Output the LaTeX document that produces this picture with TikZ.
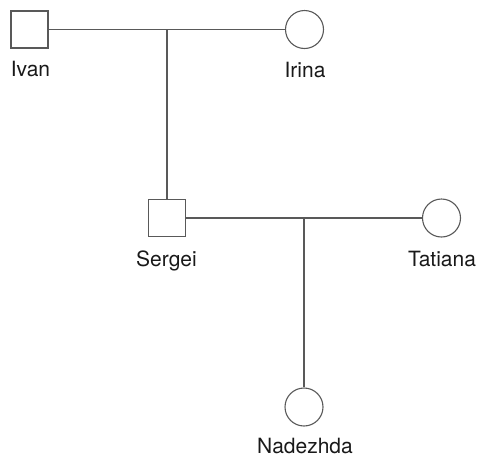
\documentclass[tikz,border=0pt]{standalone}
\usepackage{fontspec}
\setmainfont{TeX Gyre Heros}
\begin{document}
\begin{tikzpicture}[x=1pt,y=-1pt,
  line/.style={draw=black!65,line width=1.1pt},
  male/.style={draw=black!65,line width=1.1pt,rectangle,minimum size=37pt,inner sep=0pt},
  female/.style={draw=black!65,line width=1.1pt,circle,minimum size=38pt,inner sep=0pt},
  lbl/.style={anchor=base,inner sep=0pt,font=\fontsize{21}{24}\selectfont,text=black!90}]
\useasboundingbox (0,0) rectangle (479,456);
\node[male] (ivan) at (29.5,29.5) {};
\node[female] (irina) at (304.5,29.5) {};
\node[male] (sergei) at (167,218) {};
\node[female] (tatiana) at (441.5,218) {};
\node[female] (nadezhda) at (304,407) {};
\node[lbl] (ivanl) at (30.5,76.5) {Ivan};
\node[lbl] (irinal) at (305,77) {Irina};
\node[lbl] (sergeil) at (166.5,266) {Sergei};
\node[lbl] (tatianal) at (442,266) {Tatiana};
\node[lbl] (nadezhdal) at (305,453) {Nadezhda};
\coordinate (m1) at (167,29.5);
\coordinate (m2) at (304,218);
\draw[line] (ivan.east) -- (irina.west);
\draw[line] (m1) -- (sergei.north);
\draw[line] (sergei.east) -- (tatiana.west);
\draw[line] (m2) -- (nadezhda.north);
\end{tikzpicture}
\end{document}
